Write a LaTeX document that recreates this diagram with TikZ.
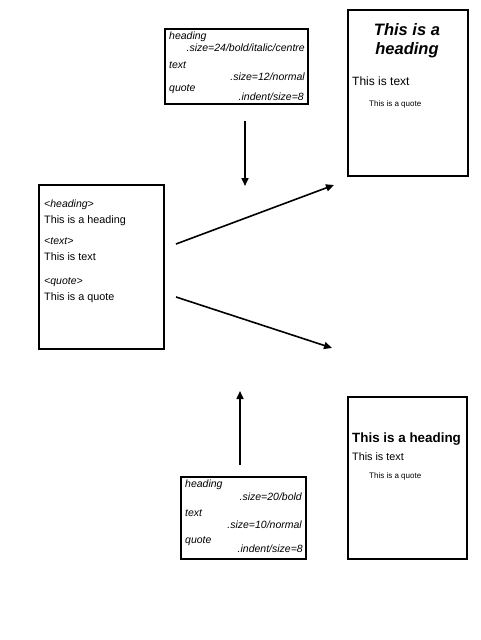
\documentclass[tikz,border=0pt]{standalone}
\usepackage{fontspec}
\setmainfont{Liberation Sans}
\usetikzlibrary{arrows.meta}
\begin{document}
\begin{tikzpicture}[x=1pt,y=-1pt,
  box/.style={draw,line width=1.8pt},
  conn/.style={line width=1.6pt,-{Triangle[length=8pt,width=7pt]}},
  lbl/.style={inner sep=0pt,anchor=west},
  lble/.style={inner sep=0pt,anchor=east},
  sty/.style={font=\fontsize{10.5}{12}\selectfont\itshape},
  tag/.style={font=\fontsize{10.5}{12}\selectfont\itshape},
  txt/.style={font=\fontsize{10.8}{12}\selectfont},
  qt/.style={font=\fontsize{8}{9}\selectfont}]
\useasboundingbox (0,0) rectangle (480,640);
\fill[white] (0,0) rectangle (480,640);
% boxes
\draw[box] (165,29) rectangle (308,104);
\node[inner sep=0pt] (stylea) at (236.5,66.5) {};
\draw[box] (348,10) rectangle (468,176);
\node[inner sep=0pt] (pagea) at (408,93) {};
\draw[box] (39,185) rectangle (164,349);
\node[inner sep=0pt] (doc) at (101.5,267) {};
\draw[box] (348,397) rectangle (467,559);
\node[inner sep=0pt] (pageb) at (407.5,478) {};
\draw[box] (181,477) rectangle (306,559);
\node[inner sep=0pt] (styleb) at (243.5,518) {};
% top style box text
\node[lbl,sty] (a1) at (169,37) {heading};
\node[lble,sty] (a2) at (305,48) {.size=24/bold/italic/centre};
\node[lbl,sty] (a3) at (169,65) {text};
\node[lble,sty] (a4) at (305,77) {.size=12/normal};
\node[lbl,sty] (a5) at (169,89) {quote};
\node[lble,sty] (a6) at (304,97) {.indent/size=8};
% top page
\node[inner sep=0pt,align=center,font=\fontsize{16.5}{19}\selectfont\bfseries\itshape] (h1) at (407,41) {This is a\\heading};
\node[lbl,font=\fontsize{12}{13}\selectfont] (t1) at (352,81) {This is text};
\node[lbl,qt] (q1) at (369,104) {This is a quote};
% left doc
\node[lbl,tag] (d1) at (44,205) {<heading>};
\node[lbl,txt] (d2) at (44,221) {This is a heading};
\node[lbl,tag] (d3) at (44,241) {<text>};
\node[lbl,txt] (d4) at (44,257) {This is text};
\node[lbl,tag] (d5) at (44,282) {<quote>};
\node[lbl,txt] (d6) at (44,298) {This is a quote};
% bottom page
\node[lbl,font=\fontsize{13.4}{15}\selectfont\bfseries] (h2) at (352,439) {This is a heading};
\node[lbl,txt] (t2) at (352,457) {This is text};
\node[lbl,qt] (q2) at (369,476) {This is a quote};
% bottom style box text
\node[lbl,sty] (b1) at (185,485) {heading};
\node[lble,sty] (b2) at (302,497) {.size=20/bold};
\node[lbl,sty] (b3) at (185,513) {text};
\node[lble,sty] (b4) at (302,525) {.size=10/normal};
\node[lbl,sty] (b5) at (185,541) {quote};
\node[lble,sty] (b6) at (303,549) {.indent/size=8};
% connectors
\coordinate (c1s) at (245,121);
\coordinate (c1e) at (245,186);
\coordinate (c2s) at (240,465);
\coordinate (c2e) at (240,391);
\coordinate (c3s) at (176,244);
\coordinate (c3e) at (334,185);
\coordinate (c4s) at (176,297);
\coordinate (c4e) at (332,348);
\draw[conn] (c1s) -- (c1e);
\draw[conn] (c2s) -- (c2e);
\draw[conn] (c3s) -- (c3e);
\draw[conn] (c4s) -- (c4e);
\end{tikzpicture}
\end{document}
